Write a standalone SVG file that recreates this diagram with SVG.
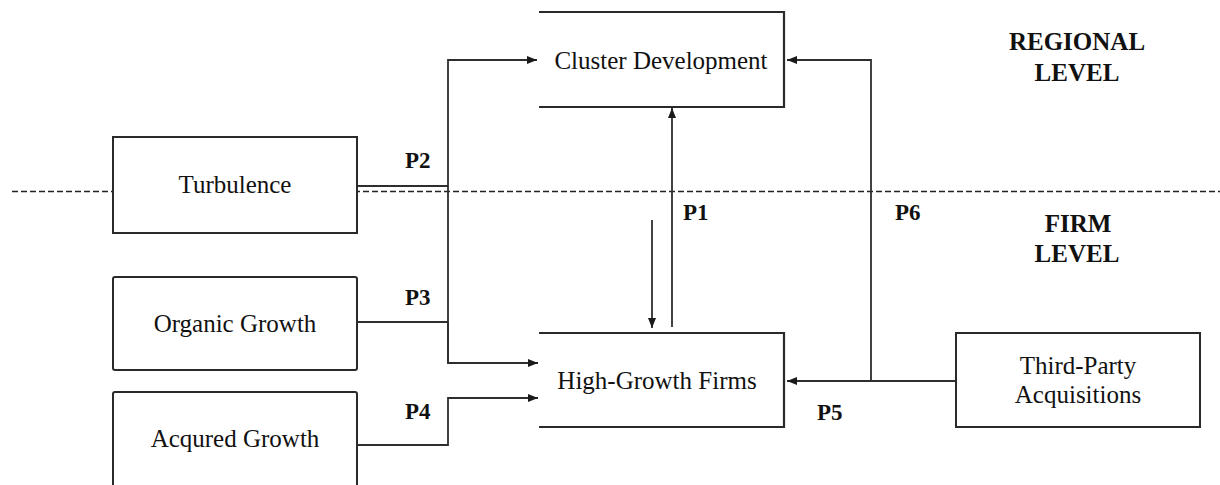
<svg xmlns="http://www.w3.org/2000/svg" width="1220" height="485" viewBox="0 0 1220 485">
  <style>
    .box { fill: #ffffff; stroke: #2a2a2a; stroke-width: 2; }
    .open { fill: none; stroke: #2a2a2a; stroke-width: 2.2; }
    .lbl { font-family: "Liberation Serif", "Times New Roman", serif; font-size: 25px; fill: #111; text-anchor: middle; }
    .p { font-family: "Liberation Serif", "Times New Roman", serif; font-size: 23px; font-weight: bold; fill: #111; }
    .lvl { font-family: "Liberation Serif", "Times New Roman", serif; font-size: 25px; font-weight: bold; fill: #111; text-anchor: middle; }
    .con { fill: none; stroke: #2e2e2e; stroke-width: 1.8; }
    .dash { fill: none; stroke: #222; stroke-width: 1.5; stroke-dasharray: 6 3; }
  </style>
  <defs>
    <marker id="arr" viewBox="0 0 10 8" refX="10" refY="4" markerWidth="10" markerHeight="8" markerUnits="userSpaceOnUse" orient="auto">
      <path d="M0,0 L10,4 L0,8 z" fill="#1a1a1a"/>
    </marker>
  </defs>

  <rect width="1220" height="485" fill="#ffffff"/>

  <!-- level divider -->
  <line class="dash" x1="12" y1="191.5" x2="1220" y2="191.5"/>

  <g id="connectors">
    <!-- P2 / P3 trunk -->
    <polyline class="con" points="357,186 448,186"/>
    <polyline class="con" points="357,322 448,322"/>
    <polyline class="con" points="448,363 448,60 537,60" marker-end="url(#arr)"/>
    <polyline class="con" points="448,322 448,363 538,363" marker-end="url(#arr)"/>
    <!-- P4 -->
    <polyline class="con" points="357,445 448,445 448,398 538,398" marker-end="url(#arr)"/>
    <!-- P1 -->
    <line class="con" x1="672" y1="327" x2="672" y2="108" stroke="#555" stroke-width="2.2" marker-end="url(#arr)"/>
    <line class="con" x1="652" y1="220" x2="652" y2="328" stroke-width="1.4" marker-end="url(#arr)"/>
    <!-- P5 / P6 -->
    <polyline class="con" points="956,381 787,381" marker-end="url(#arr)"/>
    <polyline class="con" points="871,381 871,60 787,60" marker-end="url(#arr)"/>
  </g>

  <g id="node-cluster">
    <path class="open" d="M539,12 H784 V107 H539"/>
    <text class="lbl" x="661" y="69">Cluster Development</text>
  </g>

  <g id="node-turbulence">
    <rect class="box" x="113" y="137" width="244" height="96" stroke-width="1.6"/>
    <text class="lbl" x="235" y="193">Turbulence</text>
  </g>

  <g id="node-organic">
    <rect class="box" x="113" y="277" width="244" height="93" rx="2" stroke-width="2.4"/>
    <text class="lbl" x="235" y="332">Organic Growth</text>
  </g>

  <g id="node-acquired">
    <rect class="box" x="113" y="392" width="244" height="100" rx="2" stroke-width="2.4"/>
    <text class="lbl" x="235" y="447">Acqured Growth</text>
  </g>

  <g id="node-highgrowth">
    <path class="open" d="M539,333 H784 V427 H539"/>
    <text class="lbl" x="657" y="389">High-Growth Firms</text>
  </g>

  <g id="node-thirdparty">
    <rect class="box" x="956" y="333" width="244" height="94"/>
    <text class="lbl" x="1078" y="374">Third-Party</text>
    <text class="lbl" x="1078" y="403">Acquisitions</text>
  </g>

  <g id="labels">
    <text class="p" x="405" y="168">P2</text>
    <text class="p" x="405" y="305">P3</text>
    <text class="p" x="405" y="419">P4</text>
    <text class="p" x="683" y="220">P1</text>
    <text class="p" x="895" y="220">P6</text>
    <text class="p" x="817" y="420">P5</text>
    <text class="lvl" x="1077" y="50">REGIONAL</text>
    <text class="lvl" x="1077" y="81">LEVEL</text>
    <text class="lvl" x="1078" y="232">FIRM</text>
    <text class="lvl" x="1077" y="262">LEVEL</text>
  </g>
</svg>
